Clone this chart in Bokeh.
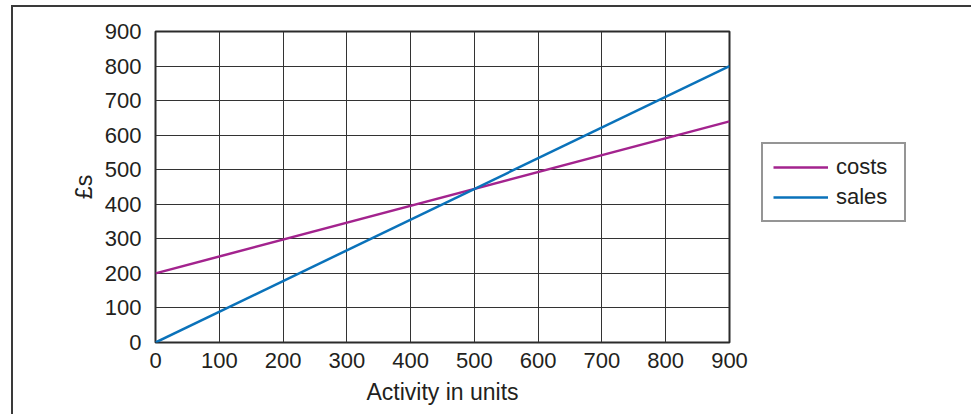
from bokeh.plotting import figure
from bokeh.models import Legend, LegendItem, Range1d
from bokeh.embed import file_html
from bokeh.resources import INLINE

activity = [0, 900]
costs = [200, 640]
sales = [0, 800]
x_ticks = [0, 100, 200, 300, 400, 500, 600, 700, 800, 900]
y_ticks = [0, 100, 200, 300, 400, 500, 600, 700, 800, 900]

FONT = "Liberation Sans"
TXT = "#231f20"

p = figure(width=954, height=407, frame_width=574, frame_height=311,
           min_border_left=142, min_border_right=238, min_border_top=24, min_border_bottom=72,
           x_range=Range1d(0, 900), y_range=Range1d(0, 900),
           output_backend="svg", toolbar_location=None, tools="")
p.styles = {"border-top": "2px solid #3a3a3a", "border-left": "2px solid #3a3a3a",
            "border-right": "2px solid #3a3a3a", "margin-left": "11px", "margin-top": "5px"}

p.outline_line_color = "#2b2b2b"
p.outline_line_width = 2

for ax in (p.xaxis[0], p.yaxis[0]):
    ax.axis_line_color = None
    ax.major_tick_line_color = None
    ax.minor_tick_line_color = None
    ax.major_label_text_font = FONT
    ax.major_label_text_font_size = "22px"
    ax.major_label_text_color = TXT
    ax.axis_label_text_font = FONT
    ax.axis_label_text_font_size = "23px"
    ax.axis_label_text_font_style = "normal"
    ax.axis_label_text_color = TXT

p.xaxis[0].ticker = x_ticks
p.yaxis[0].ticker = y_ticks
p.xaxis.axis_label = "Activity in units"
p.yaxis.axis_label = "£s"
p.xaxis.major_label_standoff = 4
p.yaxis.major_label_standoff = 8
p.xaxis.axis_label_standoff = 8
p.yaxis.axis_label_standoff = 5

p.grid.grid_line_color = "#333333"
p.grid.grid_line_width = 1
p.grid.grid_line_alpha = 1

r_costs = p.line(activity, costs, line_color="#a3238e", line_width=2.5)
r_sales = p.line(activity, sales, line_color="#0a72ba", line_width=2.5)

legend = Legend(items=[LegendItem(label="costs", renderers=[r_costs]),
                       LegendItem(label="sales", renderers=[r_sales])],
                location=(32, 120), orientation="vertical",
                label_text_font=FONT, label_text_font_size="22px", label_text_color=TXT,
                glyph_width=55, glyph_height=20, label_height=20, label_width=58,
                label_standoff=8, spacing=4, padding=10, margin=0,
                border_line_color="#2b2b2b", border_line_width=2,
                background_fill_color="white", background_fill_alpha=1)
p.add_layout(legend, "right")

open("out.html", "w").write(file_html(p, INLINE))
